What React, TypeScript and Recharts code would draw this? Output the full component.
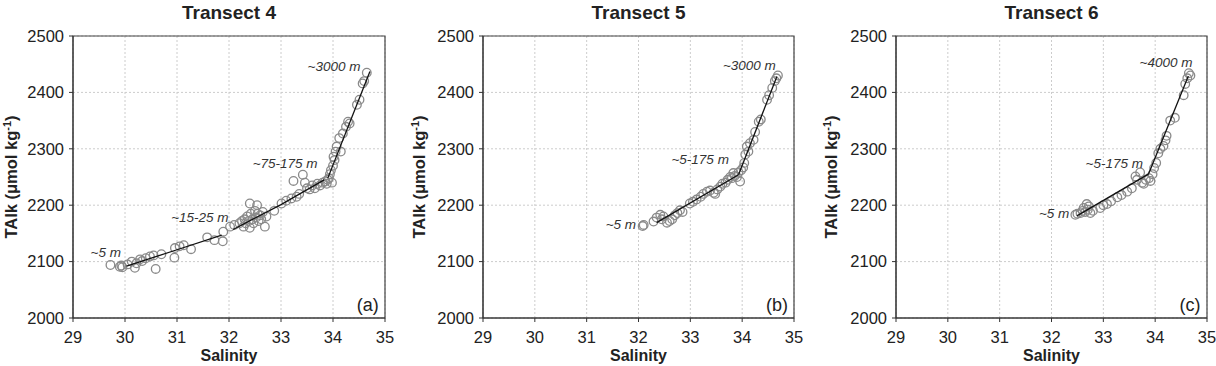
import React from "react";
import {
    ScatterChart, Scatter, XAxis, YAxis, CartesianGrid, ReferenceArea, ReferenceDot,
} from "recharts";

const FONT = '"Liberation Sans", Arial, sans-serif';

const X_TICKS = [29, 30, 31, 32, 33, 34, 35];
const Y_TICKS = [2000, 2100, 2200, 2300, 2400, 2500];

// Transect 4: [salinity, TAlk]
const T4_POINTS = [
    [29.72, 2094], [29.90, 2091], [29.93, 2093], [29.95, 2090], [30.05, 2095], [30.13, 2100],
    [30.19, 2089], [30.22, 2097], [30.29, 2104], [30.33, 2101], [30.40, 2106], [30.48, 2109],
    [30.55, 2111], [30.59, 2087], [30.70, 2113], [30.95, 2107], [30.96, 2124], [31.05, 2127],
    [31.13, 2129], [31.27, 2122], [31.58, 2143], [31.72, 2138], [31.88, 2136], [31.89, 2153],
    [32.02, 2162], [32.10, 2165], [32.20, 2168], [32.25, 2172], [32.28, 2162], [32.30, 2175],
    [32.32, 2168], [32.35, 2180], [32.38, 2172], [32.40, 2203], [32.40, 2160], [32.42, 2185],
    [32.45, 2175], [32.47, 2168], [32.50, 2190], [32.52, 2178], [32.54, 2200], [32.55, 2185],
    [32.57, 2172], [32.60, 2182], [32.62, 2175], [32.65, 2188], [32.69, 2162], [32.72, 2180],
    [32.87, 2190], [33.01, 2203], [33.10, 2208], [33.20, 2212], [33.24, 2243], [33.30, 2215],
    [33.35, 2220], [33.42, 2254], [33.46, 2240], [33.50, 2230], [33.55, 2228], [33.60, 2235],
    [33.65, 2230], [33.70, 2238], [33.75, 2235], [33.80, 2240], [33.85, 2242], [33.88, 2238],
    [33.90, 2245], [33.92, 2248], [33.94, 2255], [33.96, 2262], [33.98, 2240], [34.00, 2270],
    [34.01, 2286], [34.03, 2280], [34.05, 2295], [34.07, 2304], [34.12, 2319], [34.15, 2295],
    [34.19, 2327], [34.25, 2339], [34.29, 2348], [34.32, 2345], [34.46, 2378], [34.51, 2387],
    [34.57, 2416], [34.60, 2420], [34.65, 2435],
];
const T4_FITS = [
    [[30.03, 2092], [31.0, 2121], [31.86, 2147]],
    [[32.08, 2157], [33.0, 2201], [33.83, 2245]],
    [[33.9, 2248], [34.71, 2437]],
];

// Transect 5
const T5_POINTS = [
    [32.08, 2163], [32.10, 2165], [32.29, 2171], [32.35, 2178], [32.42, 2183], [32.45, 2175],
    [32.48, 2180], [32.55, 2169], [32.60, 2172], [32.65, 2175], [32.70, 2182], [32.75, 2186],
    [32.80, 2191], [32.85, 2188], [32.99, 2203], [33.05, 2206], [33.12, 2210], [33.20, 2215],
    [33.25, 2220], [33.32, 2224], [33.38, 2226], [33.45, 2222], [33.48, 2220], [33.52, 2228],
    [33.58, 2233], [33.62, 2238], [33.68, 2240], [33.72, 2245], [33.77, 2250], [33.80, 2248],
    [33.83, 2257], [33.86, 2252], [33.90, 2250], [33.93, 2258], [33.96, 2242], [33.98, 2262],
    [34.02, 2267], [34.04, 2275], [34.06, 2290], [34.09, 2304], [34.12, 2295], [34.15, 2310],
    [34.22, 2316], [34.25, 2330], [34.32, 2348], [34.36, 2352], [34.48, 2387], [34.52, 2395],
    [34.58, 2408], [34.63, 2420], [34.66, 2425], [34.69, 2430],
];
const T5_FITS = [
    [[32.35, 2169], [33.93, 2254]],
    [[33.93, 2254], [34.67, 2428]],
];

// Transect 6
const T6_POINTS = [
    [32.46, 2183], [32.50, 2185], [32.56, 2186], [32.60, 2190], [32.62, 2195], [32.65, 2188],
    [32.68, 2202], [32.70, 2192], [32.72, 2198], [32.75, 2186], [32.80, 2190], [32.94, 2195],
    [33.00, 2200], [33.07, 2202], [33.15, 2207], [33.27, 2214], [33.35, 2218], [33.46, 2224],
    [33.55, 2230], [33.62, 2251], [33.65, 2245], [33.71, 2258], [33.75, 2240], [33.78, 2238],
    [33.82, 2245], [33.88, 2248], [33.91, 2243], [33.95, 2255], [33.98, 2266], [34.02, 2275],
    [34.06, 2292], [34.10, 2300], [34.16, 2305], [34.20, 2315], [34.22, 2323], [34.29, 2350],
    [34.38, 2355], [34.55, 2395], [34.58, 2415], [34.62, 2425], [34.65, 2434], [34.68, 2430],
];
const T6_FITS = [
    [[32.49, 2181], [33.87, 2255]],
    [[33.87, 2255], [34.64, 2429]],
];

// depth notes: [salinity, TAlk, text]
const T4_NOTES = [[29.63, 2117, "~5 m"], [31.44, 2179, "~15-25 m"], [33.08, 2275, "~75-175 m"], [34.02, 2447, "~3000 m"]];
const T5_NOTES = [[31.66, 2167, "~5 m"], [33.19, 2282, "~5-175 m"], [34.14, 2449, "~3000 m"]];
const T6_NOTES = [[32.05, 2186, "~5 m"], [33.21, 2275, "~5-175 m"], [34.21, 2454, "~4000 m"]];

const toXY = (arr) => arr.map(([x, y]) => ({ x, y }));

const Circle = (props) => (
    <circle cx={props.cx} cy={props.cy} r={4.3} fill="none" stroke="#8a8a8a" strokeWidth={1.3} />
);
const NoDot = () => <g />;

function Panel({ left, width, yAxisWidth, right, title, points, fits, notes, tag, yLabelX }) {
    const plotLeft = yAxisWidth;
    const plotRight = width - right;
    const cx = (plotLeft + plotRight) / 2;
    return (
        <div style={{ position: "absolute", left, top: 0, width, height: 366, fontFamily: FONT }}>
            <div style={{ position: "absolute", left: cx, top: 13, transform: "translate(-50%,-50%)", fontWeight: "bold", fontSize: 19, color: "#222", whiteSpace: "nowrap" }}>
                {title}
            </div>
            <div style={{ position: "absolute", left: yLabelX, top: 177, transform: "translate(-50%,-50%) rotate(-90deg)", fontWeight: "bold", fontSize: 16.5, color: "#222", whiteSpace: "nowrap" }}>
                TAlk (μmol kg<sup style={{ fontSize: 11 }}>-1</sup>)
            </div>
            <div style={{ position: "absolute", left: cx, top: 356, transform: "translate(-50%,-50%)", fontWeight: "bold", fontSize: 16, lineHeight: "18px", color: "#222", whiteSpace: "nowrap" }}>
                Salinity
            </div>
            <ScatterChart width={width} height={366} margin={{ top: 36, right, bottom: 0, left: 0 }}>
                <CartesianGrid stroke="#cccccc" strokeDasharray="2 2" />
                <XAxis type="number" dataKey="x" domain={[29, 35]} ticks={X_TICKS} height={48}
                    tick={{ fill: "#222", fontSize: 16.5, fontFamily: FONT }} tickSize={4} tickMargin={9}
                    stroke="#333" allowDataOverflow />
                <YAxis type="number" dataKey="y" domain={[2000, 2500]} ticks={Y_TICKS} width={yAxisWidth}
                    tick={{ fill: "#222", fontSize: 16.5, fontFamily: FONT }} tickSize={4} tickMargin={5}
                    stroke="#333" allowDataOverflow />
                <ReferenceArea x1={29} x2={35} y1={2000} y2={2500} fill="none" stroke="#444" strokeWidth={1.2} />
                <Scatter data={toXY(points)} shape={Circle} isAnimationActive={false} />
                {fits.map((f, i) => (
                    <Scatter key={i} data={toXY(f)} shape={NoDot} line={{ stroke: "#111", strokeWidth: 1.3 }}
                        lineType="joint" isAnimationActive={false} />
                ))}
                {notes.map(([x, y, t], i) => (
                    <ReferenceDot key={i} x={x} y={y} r={0} stroke="none"
                        label={{ value: t, position: "center", fontSize: 13.5, fontStyle: "italic", fill: "#333", fontFamily: FONT }} />
                ))}
                <ReferenceDot x={34.67} y={2023} r={0} stroke="none"
                    label={{ value: tag, position: "center", fontSize: 18, fill: "#222", fontFamily: FONT }} />
            </ScatterChart>
        </div>
    );
}

export default function App() {
    return (
        <div style={{ position: "absolute", left: 0, top: 0, width: 1216, height: 366, background: "#fff", overflow: "hidden" }}>
            <Panel left={0} width={400} yAxisWidth={73} right={15} title="Transect 4"
                points={T4_POINTS} fits={T4_FITS} notes={T4_NOTES} tag="(a)" yLabelX={11} />
            <Panel left={400} width={410} yAxisWidth={83} right={16} title="Transect 5"
                points={T5_POINTS} fits={T5_FITS} notes={T5_NOTES} tag="(b)" yLabelX={19} />
            <Panel left={810} width={406} yAxisWidth={86} right={9} title="Transect 6"
                points={T6_POINTS} fits={T6_FITS} notes={T6_NOTES} tag="(c)" yLabelX={21} />
        </div>
    );
}
